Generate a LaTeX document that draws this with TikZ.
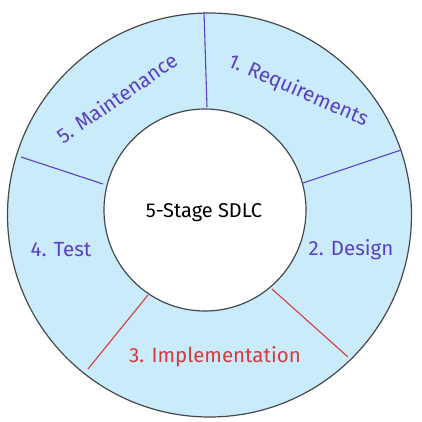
\documentclass[tikz,border=0pt]{standalone}
\usepackage{fontspec}
\setmainfont{Fira Sans}
\definecolor{ringblue}{HTML}{C9EBFA}
\definecolor{edgegray}{HTML}{46494C}
\definecolor{stagepurple}{HTML}{5B3FC4}
\definecolor{stagered}{HTML}{D63B3B}
\tikzset{
  stagelabel/.style={font=\fontsize{20.5}{22}\selectfont, inner sep=0pt},
  purplecut/.style={draw=stagepurple, line width=1.1pt},
  redcut/.style={draw=stagered, line width=1.1pt}
}

\begin{document}
\begin{tikzpicture}[x=1pt, y=-1pt]
    \useasboundingbox (0,0) rectangle (421,422);
    % ring
    \draw[fill=ringblue, draw=edgegray, line width=1.2pt] (209.5,215) circle (202);
    % dividers
    \draw[purplecut] (207,107) -- (204,12);
    \draw[purplecut] (303,183) -- (401,150);
    \draw[redcut] (272,289) -- (348,357);
    \draw[redcut] (148,295) -- (88,369);
    \draw[purplecut] (103,184) -- (21,157);
    % hub
    \draw[fill=white, draw=edgegray, line width=1.2pt] (205,210) circle (101);
    \node[font=\fontsize{20}{22}\selectfont, text=black] (hub) at (204,213) {5-Stage SDLC};
    % stages
    \node[stagelabel, text=stagepurple, rotate=-23.7] (req) at (298,91) {1. Requirements};
    \node[stagelabel, text=stagepurple] (design) at (351,250) {2. Design};
    \node[stagelabel, text=stagered] (impl) at (215,357) {3. Implementation};
    \node[stagelabel, text=stagepurple] (test) at (61,250) {4. Test};
    \node[stagelabel, text=stagepurple, rotate=34.7] (maint) at (117,98) {5. Maintenance};
\end{tikzpicture}
\end{document}
